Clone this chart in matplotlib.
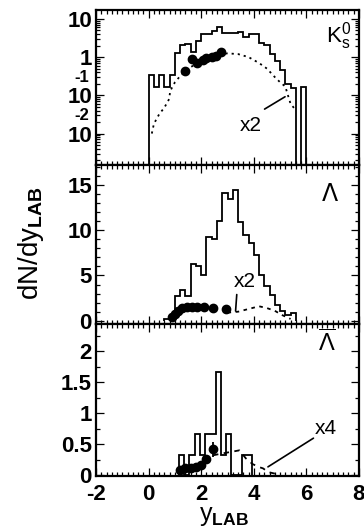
import numpy as np
import matplotlib
matplotlib.use("Agg")
import matplotlib.pyplot as plt
from matplotlib.ticker import MultipleLocator, LogLocator, FixedLocator, NullFormatter

plt.rcParams['font.family'] = ['Liberation Sans', 'DejaVu Sans']
plt.rcParams['mathtext.fontset'] = 'custom'
plt.rcParams['mathtext.rm'] = 'Liberation Sans'
plt.rcParams['mathtext.bf'] = 'Liberation Sans:bold'
plt.rcParams['mathtext.sf'] = 'Liberation Sans'

# ---------------- data ----------------
# K0s (top, log)
k_edges = np.round(np.arange(0.0, 6.01, 0.2), 2)
k_hist = [0.34, 0.165, 0.34, 0.165, 0.34, 1.25, 2.1, 2.2, 1.4, 2.7, 3.9, 4.1, 4.8, 6.1,
          4.3, 4.3, 4.3, 4.5, 3.3, 3.9, 3.9, 2.4, 2.1, 1.2, 0.8, 0.45, 0.2, 0.16,
          0.0, 0.165]
k_pts_x = [1.4, 1.65, 1.85, 2.05, 2.2, 2.4, 2.55, 2.75]
k_pts_y = [0.43, 0.87, 0.71, 0.82, 0.92, 1.0, 1.06, 1.38]
k_curve_x = [0.12, 0.2, 0.4, 0.6, 0.78, 0.82, 1.0, 1.2, 1.4, 1.6, 1.8, 2.0, 2.2, 2.4,
             2.6, 2.8, 3.0, 3.4, 3.8, 4.2, 4.5, 4.8, 5.0, 5.2, 5.3, 5.4, 5.55]
k_curve_y = [0.01, 0.018, 0.032, 0.048, 0.08, 0.13, 0.22, 0.32, 0.43, 0.55, 0.65, 0.75,
             0.85, 0.95, 1.05, 1.2, 1.25, 1.2, 1.0, 0.7, 0.5, 0.3, 0.22, 0.17, 0.1, 0.06, 0.045]

# Lambda (middle)
l_edges = np.round(np.arange(0.6, 5.61, 0.2), 2)
l_hist = [0.15, 0.45, 2.7, 3.4, 2.7, 6.3, 6.0, 5.0, 9.3, 9.0, 11.0, 14.1, 13.4, 14.4,
          10.9, 9.5, 8.6, 7.3, 5.0, 3.8, 2.8, 1.7, 1.1, 0.6, 0.85]
l_pts_x = [0.9, 1.0, 1.1, 1.25, 1.45, 1.65, 1.85, 2.1, 2.45, 2.95]
l_pts_y = [0.4, 0.7, 1.1, 1.4, 1.5, 1.55, 1.55, 1.5, 1.45, 1.35]
l_curve_x = [3.0, 3.4, 3.8, 4.2, 4.5, 4.8, 5.1, 5.4]
l_curve_y = [0.9, 1.0, 1.3, 1.6, 1.4, 1.1, 0.6, 0.2]

# anti-Lambda (bottom)
a_edges = np.round(np.arange(1.15, 3.96, 0.2), 2)
a_hist = [0.33, 0.0, 0.33, 0.67, 0.33, 0.67, 0.67, 1.67, 0.33, 0.67, 0.0, 0.0, 0.33, 0.33]
a_pts_x = [1.2, 1.4, 1.6, 1.8, 2.0, 2.2, 2.45]
a_pts_y = [0.09, 0.11, 0.12, 0.13, 0.16, 0.26, 0.42]
a_pts_err = [0.0, 0.0, 0.0, 0.0, 0.0, 0.0, 0.12]
a_curve_x = [2.45, 2.8, 3.2, 3.45, 3.7, 3.95, 4.2, 4.35, 4.55, 4.85]
a_curve_y = [0.32, 0.35, 0.38, 0.4, 0.27, 0.18, 0.13, 0.11, 0.05, 0.02]

x_ticks = [-2, 0, 2, 4, 6, 8]

# ---------------- figure ----------------
fig = plt.figure(figsize=(3.64, 5.29), dpi=100)
L, R = 0.264, 0.986
ax1 = fig.add_axes([L, 0.688, R - L, 0.293])
ax2 = fig.add_axes([L, 0.388, R - L, 0.300])
ax3 = fig.add_axes([L, 0.100, R - L, 0.288])

tfont = dict(fontsize=16, fontweight='bold')
for ax in (ax1, ax2, ax3):
    ax.set_xlim(-2, 8)
    ax.xaxis.set_major_locator(FixedLocator(x_ticks))
    ax.xaxis.set_minor_locator(MultipleLocator(0.2))
    ax.tick_params(which='both', direction='in', top=True, right=True, width=0.9)
    ax.tick_params(which='major', length=6, pad=3)
    ax.tick_params(which='minor', length=3)
    for s in ax.spines.values():
        s.set_linewidth(1.6)

lw = 1.3
# ---- top ----
kh = np.maximum(np.array(k_hist), 0.0015)
ax1.set_yscale('log')
ax1.set_ylim(0.0015, 17)
ax1.stairs(kh, k_edges, baseline=0.0015, color='black', lw=lw)
ax1.plot(k_curve_x, k_curve_y, color='black', lw=1.3, ls=(0, (1.2, 2.2)))
ax1.plot(k_pts_x, k_pts_y, 'o', color='black', ms=6)
ax1.yaxis.set_major_locator(FixedLocator([0.01, 0.1, 1, 10]))
ax1.yaxis.set_minor_locator(LogLocator(base=10, subs=np.arange(2, 10), numticks=20))
ax1.yaxis.set_minor_formatter(NullFormatter())
ax1.set_yticklabels(['10', '10', '1', '10'], **tfont)
ytr = ax1.get_yaxis_transform()
ax1.text(-0.025, 0.19, '-1', transform=ytr, ha='right', va='bottom', fontsize=12,
         fontweight='bold')
ax1.text(-0.025, 0.019, '-2', transform=ytr, ha='right', va='bottom', fontsize=12,
         fontweight='bold')
ax1.set_xticklabels([])
ax1.text(0.97, 0.83, r'$\mathrm{K^0_s}$', transform=ax1.transAxes, ha='right',
         va='center', fontsize=16)
ax1.text(3.88, 0.016, 'x2', ha='center', va='center', fontsize=15)
ax1.annotate('', xy=(5.28, 0.1), xytext=(4.32, 0.04),
             arrowprops=dict(arrowstyle='-', color='black', lw=1.2))

# ---- middle ----
ax2.set_ylim(-0.33, 17.2)
ax2.stairs(l_hist, l_edges, baseline=0, color='black', lw=lw)
ax2.plot(l_curve_x, l_curve_y, color='black', lw=1.3, ls=(0, (2, 2.5)))
ax2.plot(l_pts_x, l_pts_y, 'o', color='black', ms=6)
ax2.yaxis.set_major_locator(FixedLocator([0, 5, 10, 15]))
ax2.yaxis.set_minor_locator(MultipleLocator(1))
ax2.set_yticklabels(['0', '5', '10', '15'], **tfont)
ax2.set_xticklabels([])
ax2.text(0.89, 0.82, 'Λ', transform=ax2.transAxes, ha='center', va='center',
         fontsize=17, family='DejaVu Sans')
ax2.text(3.65, 4.3, 'x2', ha='center', va='center', fontsize=15)
ax2.annotate('', xy=(3.3, 0.77), xytext=(3.36, 3.2),
             arrowprops=dict(arrowstyle='-', color='black', lw=1.2))

# ---- bottom ----
ax3.set_ylim(-0.015, 2.44)
ax3.stairs(a_hist, a_edges, baseline=0, color='black', lw=lw)
ax3.plot(a_curve_x, a_curve_y, color='black', lw=1.3, ls=(0, (3, 3)))
ax3.errorbar(a_pts_x, a_pts_y, yerr=a_pts_err, fmt='o', color='black', ms=6,
             elinewidth=1.3, capsize=0)
ax3.yaxis.set_major_locator(FixedLocator([0, 0.5, 1, 1.5, 2]))
ax3.yaxis.set_minor_locator(MultipleLocator(0.25))
ax3.set_yticklabels(['0', '0.5', '1', '1.5', '2'], **tfont)
ax3.set_xticklabels(['-2', '0', '2', '4', '6', '8'], **tfont)
ax3.tick_params(axis='x', which='major', pad=6)
ax3.text(0.88, 0.87, r'$\overline{\mathrm{\Lambda}}$', transform=ax3.transAxes,
         ha='center', va='center', fontsize=17)
ax3.text(6.73, 0.76, 'x4', ha='center', va='center', fontsize=15)
ax3.annotate('', xy=(4.45, 0.11), xytext=(6.36, 0.62),
             arrowprops=dict(arrowstyle='-', color='black', lw=1.2))

fig.text(0.085, 0.54, r'dN/dy$_{\mathbf{LAB}}$', rotation=90, ha='center',
         va='center', fontsize=20)
fig.text(0.615, 0.016, r'y$_{\mathbf{LAB}}$', ha='center', va='baseline', fontsize=18)

fig.savefig('out.png', dpi=100)
